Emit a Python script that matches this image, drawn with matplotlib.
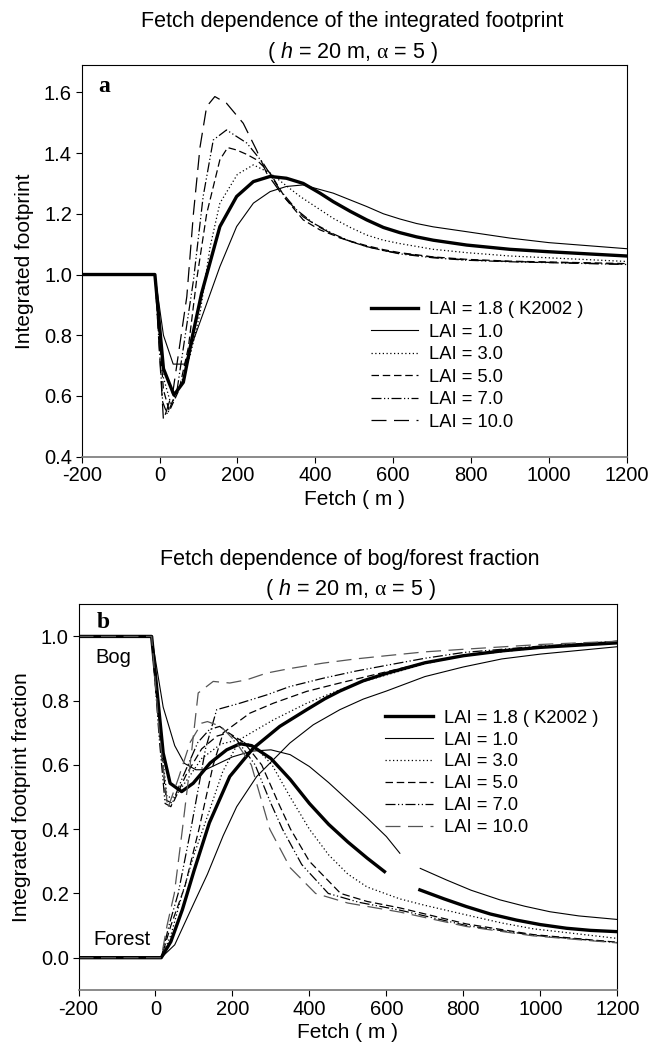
"""Fetch dependence of the integrated footprint and of the bog/forest fractions."""

import numpy as np
import matplotlib
matplotlib.use("Agg")
import matplotlib.pyplot as plt

nan = np.nan

LAI_LABELS = ["LAI = 1.8 ( K2002 )", "LAI = 1.0", "LAI = 3.0", "LAI = 5.0", "LAI = 7.0", "LAI = 10.0"]

# ---- panel a: integrated footprint --------------------------------------
fetch_a_18 = [-200, -12, 10, 37, 61, 85, 108, 155, 198, 241, 284, 326, 369, 412, 446, 490, 532, 575, 617, 660, 703, 789, 900, 1000, 1200]
foot_a_18 = [1.0, 1.0, 0.69, 0.603, 0.645, 0.80, 0.938, 1.158, 1.257, 1.306, 1.323, 1.317, 1.30, 1.268, 1.24, 1.208, 1.18, 1.155, 1.138, 1.124, 1.113, 1.097, 1.083, 1.075, 1.061]

fetch_a_10 = [-200, -12, 10, 35, 65, 112, 155, 198, 241, 284, 326, 369, 446, 532, 575, 617, 660, 703, 789, 900, 1000, 1200]
foot_a_10 = [1.0, 1.0, 0.80, 0.705, 0.705, 0.872, 1.026, 1.158, 1.235, 1.273, 1.29, 1.295, 1.268, 1.224, 1.20, 1.183, 1.168, 1.157, 1.141, 1.12, 1.105, 1.085]

fetch_a_30 = [-200, -12, 10, 30, 55, 80, 104, 130, 155, 200, 241, 284, 361, 446, 490, 532, 575, 617, 703, 789, 900, 1200]
foot_a_30 = [1.0, 1.0, 0.66, 0.57, 0.64, 0.74, 0.873, 1.092, 1.235, 1.33, 1.361, 1.334, 1.257, 1.185, 1.155, 1.13, 1.113, 1.102, 1.083, 1.072, 1.061, 1.043]

fetch_a_50 = [-200, -12, 10, 25, 50, 74, 95, 121, 155, 175, 198, 225, 249, 284, 326, 369, 412, 446, 490, 532, 575, 617, 703, 789, 900, 1200]
foot_a_50 = [1.0, 1.0, 0.62, 0.55, 0.62, 0.76, 0.98, 1.2, 1.378, 1.418, 1.41, 1.395, 1.378, 1.334, 1.246, 1.18, 1.147, 1.13, 1.11, 1.095, 1.082, 1.072, 1.058, 1.05, 1.044, 1.036]

fetch_a_70 = [-200, -12, 8, 20, 45, 87, 112, 138, 172, 224, 266, 309, 352, 395, 446, 490, 532, 575, 617, 703, 789, 900, 1200]
foot_a_70 = [1.0, 1.0, 0.58, 0.54, 0.62, 0.98, 1.257, 1.443, 1.476, 1.433, 1.367, 1.279, 1.213, 1.169, 1.134, 1.109, 1.092, 1.079, 1.068, 1.055, 1.047, 1.042, 1.033]

fetch_a_100 = [-200, -12, 10, 35, 70, 87, 104, 121, 142, 172, 215, 249, 275, 318, 369, 412, 460, 532, 575, 617, 703, 789, 900, 1200]
foot_a_100 = [1.0, 1.0, 0.52, 0.62, 0.927, 1.2, 1.42, 1.553, 1.586, 1.564, 1.498, 1.41, 1.334, 1.257, 1.19, 1.155, 1.122, 1.092, 1.079, 1.07, 1.057, 1.048, 1.043, 1.034]

# ---- panel b: bog fraction (nan = gap in the original line) ---------------
fetch_bog_18 = [-200, -10, 20, 38, 68, 98, 142, 185, 220, 250, 300, 350, 400, 450, 500, 550, 595, nan, 687, 750, 808, 870, 938, 1000, 1068, 1130, 1200]
bog_18 = [1.0, 1.0, 0.637, 0.543, 0.517, 0.543, 0.606, 0.647, 0.666, 0.66, 0.62, 0.555, 0.48, 0.415, 0.36, 0.31, 0.268, nan, 0.211, 0.183, 0.159, 0.136, 0.117, 0.103, 0.0916, 0.085, 0.081]

fetch_bog_10 = [-200, -10, 20, 50, 75, 105, 130, 200, 250, 300, 350, 400, 450, 500, 550, 600, 635, nan, 688, 756, 820, 895, 960, 1025, 1100, 1200]
bog_10 = [1.0, 1.0, 0.78, 0.66, 0.605, 0.585, 0.585, 0.625, 0.643, 0.647, 0.632, 0.595, 0.545, 0.49, 0.435, 0.377, 0.325, nan, 0.278, 0.242, 0.21, 0.18, 0.16, 0.143, 0.13, 0.119]

fetch_bog_30 = [-200, -10, 12, 30, 50, 80, 120, 170, 215, 260, 303, 350, 400, 450, 500, 550, 635, 700, 808, 900, 981, 1200]
bog_30 = [1.0, 1.0, 0.70, 0.50, 0.50, 0.55, 0.62, 0.665, 0.678, 0.655, 0.60, 0.50, 0.40, 0.32, 0.26, 0.22, 0.183, 0.163, 0.133, 0.108, 0.09, 0.06]

fetch_bog_50 = [-200, -10, 12, 28, 45, 80, 120, 160, 190, 230, 276, 320, 351, 400, 481, 550, 635, 808, 981, 1200]
bog_50 = [1.0, 1.0, 0.68, 0.49, 0.48, 0.57, 0.65, 0.69, 0.70, 0.67, 0.60, 0.48, 0.40, 0.30, 0.20, 0.175, 0.155, 0.105, 0.072, 0.048]

fetch_bog_70 = [-200, -10, 10, 25, 40, 70, 110, 140, 167, 210, 259, 300, 330, 380, 449, 530, 635, 808, 981, 1200]
bog_70 = [1.0, 1.0, 0.68, 0.48, 0.47, 0.56, 0.67, 0.71, 0.72, 0.68, 0.60, 0.48, 0.40, 0.29, 0.20, 0.172, 0.148, 0.10, 0.07, 0.047]

fetch_bog_100 = [-200, -10, 10, 32, 60, 90, 120, 135, 170, 210, 249, 297, 350, 416, 500, 635, 808, 981, 1200]
bog_100 = [1.0, 1.0, 0.70, 0.465, 0.56, 0.67, 0.73, 0.735, 0.72, 0.67, 0.60, 0.40, 0.28, 0.20, 0.17, 0.142, 0.097, 0.068, 0.046]

# ---- panel b: forest fraction -------------------------------------------
fetch_for_18 = [-200, 15, 40, 70, 100, 140, 193, 254, 323, 393, 440, 479, 540, 600, 700, 800, 900, 1000, 1200]
for_18 = [0.0, 0.0, 0.05, 0.15, 0.27, 0.42, 0.564, 0.652, 0.72, 0.772, 0.806, 0.83, 0.862, 0.885, 0.918, 0.94, 0.955, 0.966, 0.98]

fetch_for_10 = [-200, 15, 50, 100, 135, 176, 211, 263, 349, 410, 479, 540, 600, 700, 800, 900, 1000, 1200]
for_10 = [0.0, 0.0, 0.04, 0.17, 0.26, 0.38, 0.47, 0.564, 0.668, 0.725, 0.772, 0.805, 0.83, 0.875, 0.905, 0.93, 0.945, 0.968]

fetch_for_30 = [-200, 15, 40, 70, 100, 135, 175, 220, 306, 393, 479, 540, 600, 700, 800, 1000, 1200]
for_30 = [0.0, 0.0, 0.07, 0.2, 0.32, 0.44, 0.58, 0.68, 0.74, 0.792, 0.834, 0.86, 0.88, 0.915, 0.94, 0.965, 0.98]

fetch_for_50 = [-200, 15, 40, 76, 113, 150, 176, 245, 306, 393, 479, 600, 700, 800, 1000, 1200]
for_50 = [0.0, 0.0, 0.1, 0.22, 0.4, 0.6, 0.70, 0.761, 0.792, 0.829, 0.855, 0.89, 0.918, 0.94, 0.966, 0.985]

fetch_for_70 = [-200, 15, 35, 59, 92, 130, 159, 219, 289, 349, 436, 520, 600, 700, 800, 1000, 1200]
for_70 = [0.0, 0.0, 0.1, 0.2, 0.4, 0.65, 0.772, 0.792, 0.818, 0.844, 0.87, 0.892, 0.91, 0.932, 0.95, 0.97, 0.985]

fetch_for_100 = [-200, 15, 30, 49, 70, 90, 111, 150, 193, 237, 289, 349, 436, 520, 600, 700, 800, 1000, 1200]
for_100 = [0.0, 0.0, 0.1, 0.2, 0.4, 0.6, 0.824, 0.86, 0.855, 0.865, 0.886, 0.90, 0.917, 0.93, 0.94, 0.952, 0.96, 0.975, 0.985]

# line style per LAI, same order as LAI_LABELS
STYLES = [
    dict(ls="-", lw=2.4),
    dict(ls="-", lw=0.8),
    dict(ls=(0, (1, 2)), lw=0.9),
    dict(ls=(0, (6, 3)), lw=0.9),
    dict(ls=(0, (8, 2, 1, 2, 1, 2)), lw=0.9),
    dict(ls=(0, (12, 6)), lw=0.9),
]

plt.rcParams["font.family"] = ["Liberation Sans", "DejaVu Sans"]
plt.rcParams["axes.unicode_minus"] = False
plt.rcParams["mathtext.fontset"] = "custom"
plt.rcParams["mathtext.it"] = "Liberation Sans:italic"
plt.rcParams["mathtext.rm"] = "Liberation Serif"


def style_axes(ax, xlabel, ylabel, yticks):
    ax.set_xlim(-200, 1200)
    ax.set_xticks(range(-200, 1201, 200))
    ax.set_yticks(yticks)
    ax.set_yticklabels([f"{t:.1f}" for t in yticks])
    ax.tick_params(direction="out", length=4, width=0.8, pad=3, labelsize=14.5, top=False, right=False)
    ax.set_xlabel(xlabel, fontsize=15, labelpad=3)
    ax.set_ylabel(ylabel, fontsize=15, labelpad=7)
    for side in ["left", "right", "top"]:
        ax.spines[side].set_linewidth(0.8)
    ax.spines["bottom"].set_linewidth(1.2)
    ax.spines["bottom"].set_color("#777777")


fig = plt.figure(figsize=(6.52, 10.43), dpi=100)

# ---- panel a ----
ax1 = fig.add_axes([0.1253, 0.5621, 0.8359, 0.3756])
series_a = [(fetch_a_18, foot_a_18), (fetch_a_10, foot_a_10), (fetch_a_30, foot_a_30),
            (fetch_a_50, foot_a_50), (fetch_a_70, foot_a_70), (fetch_a_100, foot_a_100)]
for (fx, fy), label, st in zip(series_a, LAI_LABELS, STYLES):
    ax1.plot(fx, fy, color="black", label=label, **st)
ax1.set_ylim(0.4, 1.69)
style_axes(ax1, "Fetch ( m )", "Integrated footprint", [0.4, 0.6, 0.8, 1.0, 1.2, 1.4, 1.6])
ax1.text(0.03, 0.931, "a", transform=ax1.transAxes, fontsize=17, fontweight="bold",
         family="Liberation Serif", va="baseline")
ax1.legend(loc="upper left", bbox_to_anchor=(0.53, 0.397), frameon=False, fontsize=13.2,
           handlelength=2.6, handletextpad=0.6, labelspacing=0.3, borderpad=0, borderaxespad=0)

# ---- panel b ----
ax2 = fig.add_axes([0.1204, 0.0510, 0.8264, 0.3696])
bog_series = [(fetch_bog_18, bog_18), (fetch_bog_10, bog_10), (fetch_bog_30, bog_30),
              (fetch_bog_50, bog_50), (fetch_bog_70, bog_70), (fetch_bog_100, bog_100)]
forest_series = [(fetch_for_18, for_18), (fetch_for_10, for_10), (fetch_for_30, for_30),
                 (fetch_for_50, for_50), (fetch_for_70, for_70), (fetch_for_100, for_100)]
colors_b = ["black"] * 5 + ["#555555"]
for i, label in enumerate(LAI_LABELS):
    ax2.plot(*bog_series[i], color=colors_b[i], label=label, **STYLES[i])
    ax2.plot(*forest_series[i], color=colors_b[i], **STYLES[i])
ax2.set_ylim(-0.1, 1.1)
style_axes(ax2, "Fetch ( m )", "Integrated footprint fraction", [0.0, 0.2, 0.4, 0.6, 0.8, 1.0])
ax2.text(0.034, 0.938, "b", transform=ax2.transAxes, fontsize=17, fontweight="bold",
         family="Liberation Serif", va="baseline")
ax2.text(-156, 0.918, "Bog", fontsize=14.5, va="baseline")
ax2.text(-162, 0.04, "Forest", fontsize=14.5, va="baseline")
ax2.legend(loc="upper left", bbox_to_anchor=(0.569, 0.727), frameon=False, fontsize=13.2,
           handlelength=2.6, handletextpad=0.6, labelspacing=0.27, borderpad=0, borderaxespad=0)

# ---- titles ----
sub = r"( $\mathit{h}$ = 20 m, $\mathrm{\alpha}$ = 5 )"
fig.text(352 / 652, 1 - 26.7 / 1043, "Fetch dependence of the integrated footprint",
         ha="center", va="baseline", fontsize=15.5)
fig.text(352 / 652, 1 - 58.3 / 1043, sub, ha="center", va="baseline", fontsize=15.5)
fig.text(350 / 652, 1 - 565 / 1043, "Fetch dependence of bog/forest fraction",
         ha="center", va="baseline", fontsize=15.5)
fig.text(350 / 652, 1 - 595 / 1043, sub, ha="center", va="baseline", fontsize=15.5)

fig.savefig("out.png", dpi=100)
